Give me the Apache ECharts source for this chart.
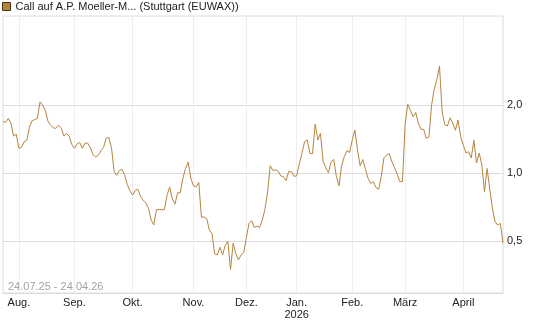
<!DOCTYPE html>
<html>
<head>
<meta charset="utf-8">
<script src="https://cdn.jsdelivr.net/npm/echarts@6/dist/echarts.min.js"></script>
<style>
	html, body { margin: 0; padding: 0; background: #fff; }
	#chart { width: 545px; height: 327px; }
</style>
</head>
<body>
<div id="chart"></div>
<script>
	var seriesName = 'Call auf A.P. Moeller-M... (Stuttgart (EUWAX))';
	var rangeText = '24.07.25 - 24.04.26';

	// trading days: weekdays from first to last day, minus exchange holidays
	var firstDay = '2025-07-24';
	var lastDay = '2026-04-24';
	var holidays = ['2025-12-24', '2025-12-25', '2025-12-26', '2025-12-31', '2026-01-01', '2026-04-03', '2026-04-06'];

	var monthLabels = {
		'2025-08': 'Aug.', '2025-09': 'Sep.', '2025-10': 'Okt.', '2025-11': 'Nov.',
		'2025-12': 'Dez.', '2026-01': 'Jan.\n2026', '2026-02': 'Feb.', '2026-03': 'März', '2026-04': 'April'
	};
	var yTicks = [0.5, 1, 2];

	// closing prices, one per trading day
	var prices = [
		1.70, 1.68, 1.75, 1.67, 1.46, 1.49, 1.29, 1.30, 1.38, 1.40,
		1.60, 1.71, 1.73, 1.75, 2.07, 2.00, 1.90, 1.70, 1.63, 1.59,
		1.58, 1.63, 1.59, 1.46, 1.50, 1.46, 1.34, 1.29, 1.35, 1.37,
		1.29, 1.36, 1.36, 1.30, 1.21, 1.18, 1.20, 1.26, 1.30, 1.43,
		1.44, 1.30, 1.02, 0.98, 1.03, 1.04, 0.98, 0.89, 0.835, 0.80,
		0.84, 0.85, 0.79, 0.756, 0.74, 0.70, 0.62, 0.59, 0.69, 0.69,
		0.69, 0.69, 0.80, 0.87, 0.77, 0.73, 0.82, 0.82, 0.95, 1.05,
		1.12, 0.95, 0.88, 0.87, 0.91, 0.64, 0.64, 0.63, 0.56, 0.54,
		0.44, 0.435, 0.47, 0.435, 0.48, 0.50, 0.375, 0.49, 0.44, 0.413,
		0.435, 0.445, 0.52, 0.60, 0.617, 0.575, 0.584, 0.575, 0.62, 0.69,
		0.82, 1.08, 1.03, 1.034, 1.024, 0.973, 0.966, 0.927, 1.02, 1.016,
		0.97, 0.973, 1.10, 1.226, 1.38, 1.404, 1.226, 1.22, 1.65, 1.404,
		1.50, 1.13, 1.06, 1.006, 1.12, 1.153, 0.97, 0.88, 1.08, 1.184,
		1.259, 1.236, 1.40, 1.555, 1.27, 1.08, 1.15, 1.04, 0.95, 0.90,
		0.918, 0.865, 0.850, 0.97, 1.17, 1.205, 1.22, 1.126, 1.06, 0.99,
		0.918, 0.92, 1.65, 2.02, 1.90, 1.78, 1.86, 1.66, 1.566, 1.566,
		1.43, 1.45, 2.0, 2.35, 2.6, 2.98, 1.87, 1.64, 1.62, 1.76,
		1.67, 1.55, 1.72, 1.45, 1.33, 1.23, 1.246, 1.17, 1.40, 1.11,
		1.23, 1.09, 0.83, 1.05, 0.85, 0.70, 0.61, 0.59, 0.60, 0.49
	];

	function tradingDays(from, to, skip) {
		var out = [];
		var d = new Date(from + 'T00:00:00Z');
		var end = new Date(to + 'T00:00:00Z');
		while (d <= end) {
			var s = d.toISOString().slice(0, 10);
			var wd = d.getUTCDay();
			if (wd !== 0 && wd !== 6 && skip.indexOf(s) < 0) out.push(s);
			d.setUTCDate(d.getUTCDate() + 1);
		}
		return out;
	}
	var dates = tradingDays(firstDay, lastDay, holidays);

	// first trading day of a month gets a label and a grid line
	function isMonthStart(index) {
		return index > 0 && dates[index].slice(0, 7) !== dates[index - 1].slice(0, 7);
	}

	var font = '"Liberation Sans", Arial, sans-serif';
	var chart = echarts.init(document.getElementById('chart'));
	chart.setOption({
		animation: false,
		textStyle: { fontFamily: font },
		legend: {
			left: 2,
			top: 1,
			padding: 0,
			icon: 'rect',
			itemWidth: 8,
			itemHeight: 8,
			itemStyle: { borderColor: '#4a3412', borderWidth: 1 },
			textStyle: { fontSize: 11, color: '#222', fontFamily: font },
			selectedMode: false
		},
		grid: {
			left: 3,
			right: 42,
			top: 16,
			bottom: 34,
			show: true,
			borderColor: '#dcdcdc',
			borderWidth: 1,
			containLabel: false,
			outerBoundsMode: 'none'
		},
		graphic: [{
			type: 'text',
			left: 8,
			top: 281,
			style: { text: rangeText, fill: '#a3a3a3', font: '11px ' + font }
		}],
		xAxis: {
			type: 'category',
			data: dates,
			boundaryGap: false,
			axisLine: { lineStyle: { color: '#dcdcdc' } },
			axisTick: { show: false },
			axisLabel: {
				interval: isMonthStart,
				margin: 4,
				fontSize: 11,
				lineHeight: 12,
				color: '#222',
				formatter: function (v) { return monthLabels[v.slice(0, 7)] || ''; }
			},
			splitLine: { show: true, interval: isMonthStart, lineStyle: { color: '#eeeeee' } }
		},
		yAxis: {
			type: 'log',
			logBase: 2,
			min: 0.295,
			max: 4.97,
			position: 'right',
			axisLine: { show: false },
			axisTick: { show: false, customValues: yTicks },
			axisLabel: {
				customValues: yTicks,
				margin: 4,
				fontSize: 11,
				color: '#222',
				formatter: function (v) { return v.toFixed(1).replace('.', ','); }
			},
			splitLine: { show: true, lineStyle: { color: '#dcdcdc' } }
		},
		series: [{
			name: seriesName,
			type: 'line',
			data: prices,
			symbol: 'none',
			itemStyle: { color: '#b5843c' },
			lineStyle: { color: '#b5843c', width: 1 }
		}]
	});
</script>
</body>
</html>
